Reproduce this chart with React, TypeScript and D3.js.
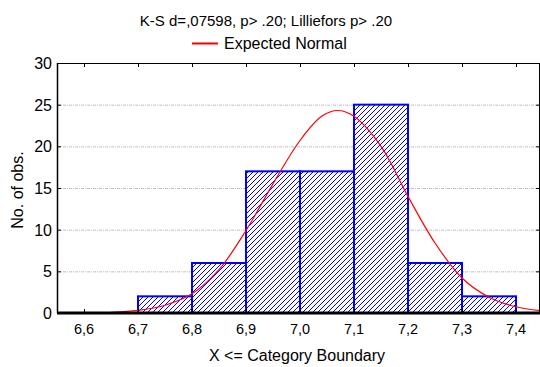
import { useEffect, useRef } from "react"
import * as d3 from "d3"

// histogram bins (lower edges) and observed counts
const binStarts = [6.6, 6.7, 6.8, 6.9, 7.0, 7.1, 7.2, 7.3]
const binCounts = [0, 2, 6, 17, 17, 25, 6, 2]

// expected normal curve
const curveX = [6.65, 6.7, 6.75, 6.8, 6.85, 6.9, 6.95, 7.0, 7.04, 7.07, 7.1, 7.15, 7.2, 7.25, 7.3, 7.35, 7.4, 7.45]
const curveY = [0.09, 0.31, 0.93, 2.3, 5.2, 9.9, 15.5, 20.7, 23.6, 24.3, 23.6, 20.0, 14.0, 8.4, 4.2, 1.9, 0.75, 0.25]

const xTicks = [6.6, 6.7, 6.8, 6.9, 7.0, 7.1, 7.2, 7.3, 7.4]
const yTicks = [0, 5, 10, 15, 20, 25, 30]

const titleText = "K-S d=,07598, p> .20; Lilliefors p> .20"
const legendText = "Expected Normal"
const xTitle = "X <= Category Boundary"
const yTitle = "No. of obs."

export default function App() {
  const svgRef = useRef<SVGSVGElement>(null)

  useEffect(() => {
    if (!svgRef.current) return
    const svg = d3.select(svgRef.current)
    svg.selectAll("*").remove()

    const width = 540
    const height = 367
    const left = 57
    const right = 540
    const top = 63
    const bottom = 313
    const font = "'Liberation Sans', Arial, sans-serif"

    // 0.1 units == 54px, tick 6.6 at 84
    const x = d3.scaleLinear().domain([6.6, 7.4]).range([84, 516])
    const y = d3.scaleLinear().domain([0, 30]).range([bottom, top])

    svg.attr("width", width).attr("height", height)

    const defs = svg.append("defs")
    const pat = defs
      .append("pattern")
      .attr("id", "hatch")
      .attr("patternUnits", "userSpaceOnUse")
      .attr("width", 5)
      .attr("height", 5)
    pat.append("rect").attr("width", 5).attr("height", 5).attr("fill", "#fff")
    pat
      .append("path")
      .attr("d", "M-1,6 L6,-1 M-1,1 L1,-1 M4,6 L6,4")
      .attr("stroke", "#0000ff")
      .attr("stroke-width", 1)
      .attr("shape-rendering", "crispEdges")

    // grid lines
    svg
      .selectAll(".grid")
      .data(yTicks.filter((d) => d > 0 && d < 30))
      .join("line")
      .attr("x1", left)
      .attr("x2", right)
      .attr("y1", (d) => y(d) + 0.5)
      .attr("y2", (d) => y(d) + 0.5)
      .attr("stroke", "#c0c0c0")
      .attr("stroke-width", 1)
      .attr("stroke-dasharray", "3,1,1,1")

    // bars
    svg
      .selectAll(".bar")
      .data(binStarts.map((s, i) => ({ s, c: binCounts[i] })).filter((d) => d.c > 0))
      .join("rect")
      .attr("x", (d) => x(d.s))
      .attr("y", (d) => y(d.c))
      .attr("width", (d) => x(d.s + 0.1) - x(d.s))
      .attr("height", (d) => y(0) - y(d.c))
      .attr("fill", "url(#hatch)")
      .attr("stroke", "#0000ff")
      .attr("stroke-width", 2)

    // expected normal curve
    const line = d3
      .line<number>()
      .x((_, i) => x(curveX[i]))
      .y((d) => y(d))
      .curve(d3.curveCatmullRom)
    svg
      .append("path")
      .datum(curveY)
      .attr("d", line)
      .attr("fill", "none")
      .attr("stroke", "#ff0000")
      .attr("stroke-width", 1.2)

    // frame
    svg.append("line").attr("x1", left).attr("x2", right).attr("y1", top + 0.5).attr("y2", top + 0.5).attr("stroke", "#000")
    svg.append("line").attr("x1", left + 0.5).attr("x2", left + 0.5).attr("y1", top).attr("y2", bottom).attr("stroke", "#000").attr("stroke-width", 1.5)
    svg.append("line").attr("x1", right - 0.5).attr("x2", right - 0.5).attr("y1", top).attr("y2", bottom).attr("stroke", "#000")
    svg.append("line").attr("x1", left).attr("x2", right).attr("y1", bottom).attr("y2", bottom).attr("stroke", "#000").attr("stroke-width", 3)

    // x ticks (inward at top and bottom)
    xTicks.forEach((t) => {
      svg.append("line").attr("x1", x(t) + 0.5).attr("x2", x(t) + 0.5).attr("y1", top).attr("y2", top + 4).attr("stroke", "#000")
      svg.append("line").attr("x1", x(t) + 0.5).attr("x2", x(t) + 0.5).attr("y1", bottom - 4).attr("y2", bottom).attr("stroke", "#000")
      svg
        .append("text")
        .attr("x", x(t))
        .attr("y", 333.5)
        .attr("text-anchor", "middle")
        .attr("font-family", font)
        .attr("font-size", 14.5)
        .text(d3.format(".1f")(t).replace(".", ","))
    })

    // y ticks
    yTicks.forEach((t) => {
      svg.append("line").attr("x1", left).attr("x2", left + 4).attr("y1", y(t) + 0.5).attr("y2", y(t) + 0.5).attr("stroke", "#000")
      svg.append("line").attr("x1", right - 4).attr("x2", right).attr("y1", y(t) + 0.5).attr("y2", y(t) + 0.5).attr("stroke", "#000")
      svg
        .append("text")
        .attr("x", 52)
        .attr("y", y(t) + 6)
        .attr("text-anchor", "end")
        .attr("font-family", font)
        .attr("font-size", 16)
        .text(String(t))
    })

    // title
    svg
      .append("text")
      .attr("x", 266)
      .attr("y", 25.5)
      .attr("text-anchor", "middle")
      .attr("font-family", font)
      .attr("font-size", 15)
      .text(titleText)

    // legend
    svg.append("line").attr("x1", 192).attr("x2", 218).attr("y1", 43.5).attr("y2", 43.5).attr("stroke", "#ff0000").attr("stroke-width", 2)
    svg
      .append("text")
      .attr("x", 224)
      .attr("y", 49)
      .attr("font-family", font)
      .attr("font-size", 16)
      .text(legendText)

    // axis titles
    svg
      .append("text")
      .attr("x", 297)
      .attr("y", 361)
      .attr("text-anchor", "middle")
      .attr("font-family", font)
      .attr("font-size", 16)
      .text(xTitle)
    svg
      .append("text")
      .attr("transform", "translate(23,190) rotate(-90)")
      .attr("text-anchor", "middle")
      .attr("font-family", font)
      .attr("font-size", 16)
      .text(yTitle)
  }, [])

  return (
    <div style={{ position: "absolute", left: 0, top: 0 }}>
      <svg ref={svgRef} width={540} height={367} />
    </div>
  )
}
